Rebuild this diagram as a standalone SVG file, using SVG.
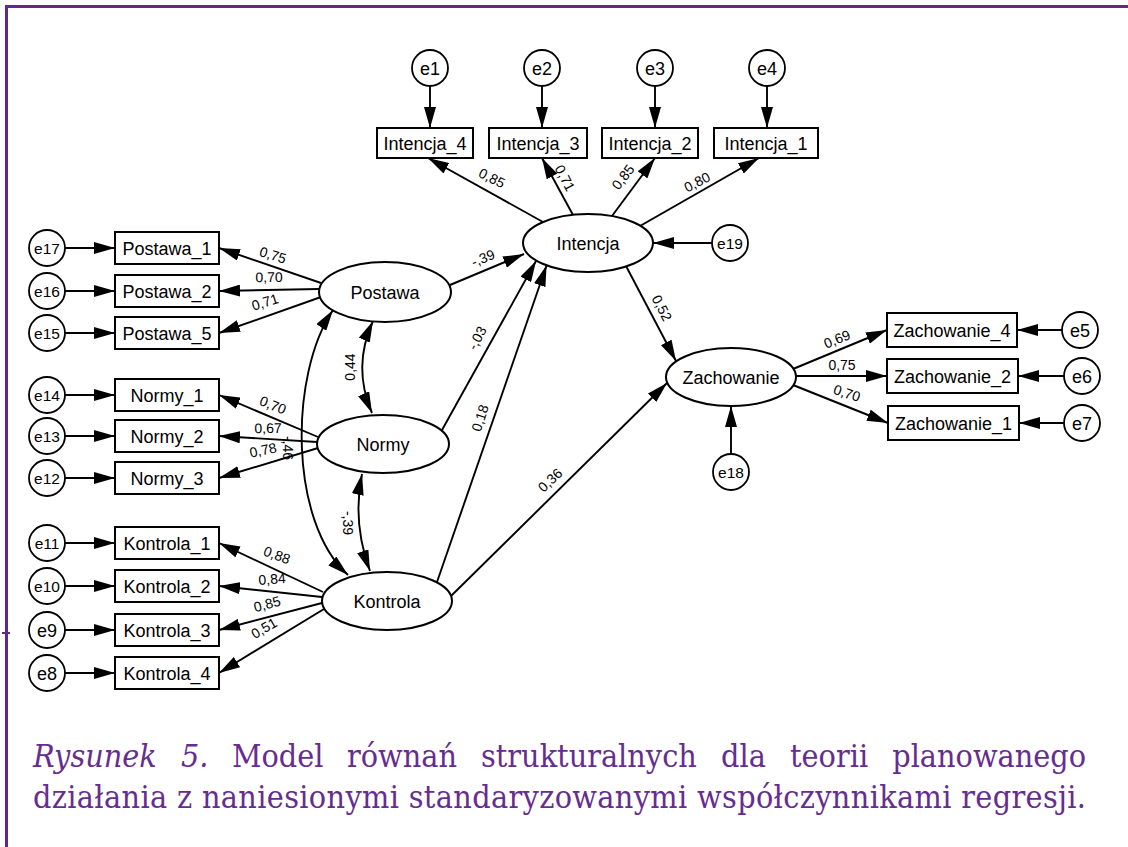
<svg xmlns="http://www.w3.org/2000/svg" width="1128" height="847" viewBox="0 0 1128 847">
<style>
.bx{fill:#fff;stroke:#000;stroke-width:2}
.el{fill:#fff;stroke:#000;stroke-width:2}
.ci{fill:#fff;stroke:#000;stroke-width:1.8}
.t{font-family:"Liberation Sans",Arial,sans-serif;font-size:18px;fill:#000;text-anchor:middle}
.e2{font-family:"Liberation Sans",Arial,sans-serif;font-size:18px;fill:#000;text-anchor:middle}
.e3{font-family:"Liberation Sans",Arial,sans-serif;font-size:15.5px;fill:#000;text-anchor:middle}
.c{font-family:"Liberation Sans",Arial,sans-serif;font-size:14px;fill:#000;text-anchor:middle}
.ln{fill:none;stroke:#000;stroke-width:1.9;marker-end:url(#ah)}
.dl{fill:none;stroke:#000;stroke-width:1.9;marker-start:url(#ah);marker-end:url(#ah)}
.cap{font-family:"DejaVu Serif","Liberation Serif",serif;font-stretch:condensed;font-size:32px;fill:#662d91}
.it{font-style:italic}
</style>
<defs>
<marker id="ah" viewBox="0 0 21 12" markerWidth="21" markerHeight="12" refX="21" refY="6" orient="auto-start-reverse" markerUnits="userSpaceOnUse">
<path d="M0,0 L21,6 L0,12 z" fill="#000"/>
</marker>
</defs>
<rect width="1128" height="847" fill="#fff"/>
<g id="frame">
<path d="M6.5,847 L6.5,6.5 L1128,6.5" fill="none" stroke="#5e2a86" stroke-width="3"/>
<line x1="2" y1="633" x2="10" y2="633" stroke="#5e2a86" stroke-width="2"/>
</g>

<g id="connectors">
<line class="ln" x1="430" y1="86" x2="430" y2="128"/>
<line class="ln" x1="542" y1="86" x2="542" y2="128"/>
<line class="ln" x1="655" y1="86" x2="655" y2="128"/>
<line class="ln" x1="767" y1="86" x2="767" y2="128"/>
<line class="ln" x1="543" y1="222" x2="428" y2="158"/>
<line class="ln" x1="573" y1="215" x2="542" y2="158"/>
<line class="ln" x1="612" y1="216" x2="655" y2="158"/>
<line class="ln" x1="640" y1="226" x2="759" y2="158"/>
<line class="ln" x1="712" y1="243" x2="653" y2="243"/>
<line class="ln" x1="65" y1="248" x2="115" y2="248"/>
<line class="ln" x1="65" y1="291" x2="115" y2="291"/>
<line class="ln" x1="65" y1="333" x2="115" y2="333"/>
<line class="ln" x1="65" y1="395" x2="115" y2="395"/>
<line class="ln" x1="65" y1="436" x2="115" y2="436"/>
<line class="ln" x1="65" y1="478" x2="115" y2="478"/>
<line class="ln" x1="65" y1="543" x2="115" y2="543"/>
<line class="ln" x1="65" y1="586" x2="115" y2="586"/>
<line class="ln" x1="65" y1="630" x2="115" y2="630"/>
<line class="ln" x1="65" y1="673" x2="115" y2="673"/>
<line class="ln" x1="321" y1="283" x2="219" y2="248"/>
<line class="ln" x1="319" y1="289" x2="219" y2="291"/>
<line class="ln" x1="321" y1="297" x2="219" y2="333"/>
<line class="ln" x1="318" y1="437" x2="219" y2="395"/>
<line class="ln" x1="317" y1="442" x2="219" y2="436"/>
<line class="ln" x1="318" y1="448" x2="219" y2="478"/>
<line class="ln" x1="323" y1="592" x2="219" y2="543"/>
<line class="ln" x1="322" y1="597" x2="219" y2="586"/>
<line class="ln" x1="322" y1="603" x2="219" y2="630"/>
<line class="ln" x1="324" y1="609" x2="219" y2="673"/>
<line class="ln" x1="450" y1="285" x2="524" y2="254"/>
<line class="ln" x1="442" y1="430" x2="536" y2="261"/>
<line class="ln" x1="437" y1="582" x2="546.6" y2="265.3"/>
<line class="ln" x1="451" y1="596" x2="667" y2="383"/>
<line class="ln" x1="626" y1="266" x2="676" y2="361"/>
<line class="ln" x1="731" y1="454" x2="731" y2="406"/>
<line class="ln" x1="793" y1="369" x2="887" y2="330"/>
<line class="ln" x1="796" y1="376" x2="887" y2="376"/>
<line class="ln" x1="793" y1="385" x2="888" y2="423"/>
<line class="ln" x1="1062" y1="330" x2="1017" y2="330"/>
<line class="ln" x1="1064" y1="376" x2="1018" y2="376"/>
<line class="ln" x1="1064" y1="423" x2="1019" y2="423"/>
<path class="dl" d="M373,321 Q352,367 372,413"/>
<path class="dl" d="M362,474 Q352,522 370,571"/>
<path class="dl" d="M333,310 C289,375 289,522 348,575"/>
</g>

<g id="coefficients">
<text class="c" transform="translate(492,178) rotate(27)" y="5">0,85</text>
<text class="c" transform="translate(565,178) rotate(62)" y="5">0,71</text>
<text class="c" transform="translate(623,177) rotate(-52)" y="5">0,85</text>
<text class="c" transform="translate(697,182) rotate(-27)" y="5">0,80</text>
<text class="c" transform="translate(273,255) rotate(17)" y="5">0,75</text>
<text class="c" transform="translate(269,277) rotate(-1)" y="5">0,70</text>
<text class="c" transform="translate(265,302) rotate(-17)" y="5">0,71</text>
<text class="c" transform="translate(273,405) rotate(22)" y="5">0,70</text>
<text class="c" transform="translate(268,428) rotate(-1)" y="5">0,67</text>
<text class="c" transform="translate(263,450) rotate(-12)" y="5">0,78</text>
<text class="c" transform="translate(277,555) rotate(20)" y="5">0,88</text>
<text class="c" transform="translate(272,579) rotate(-4)" y="5">0,84</text>
<text class="c" transform="translate(267,604) rotate(-15)" y="5">0,85</text>
<text class="c" transform="translate(264,628) rotate(-30)" y="5">0,51</text>
<text class="c" transform="translate(288,448) rotate(90)" y="5">-,46</text>
<text class="c" transform="translate(350,367) rotate(-90)" y="5">0,44</text>
<text class="c" transform="translate(348,523) rotate(90)" y="5">-,39</text>
<text class="c" transform="translate(483,258) rotate(-22)" y="5">-,39</text>
<text class="c" transform="translate(477,338) rotate(-62)" y="5">-,03</text>
<text class="c" transform="translate(480,418) rotate(-72)" y="5">0,18</text>
<text class="c" transform="translate(550,480) rotate(-43)" y="5">0,36</text>
<text class="c" transform="translate(662,308) rotate(63)" y="5">0,52</text>
<text class="c" transform="translate(837,339) rotate(-22)" y="5">0,69</text>
<text class="c" transform="translate(842,365)" y="5">0,75</text>
<text class="c" transform="translate(847,393) rotate(18)" y="5">0,70</text>
</g>

<g id="e1"><circle class="ci" cx="430" cy="68" r="18"/><text class="e2" x="430" y="74.5">e1</text></g>
<g id="e2"><circle class="ci" cx="542" cy="68" r="18"/><text class="e2" x="542" y="74.5">e2</text></g>
<g id="e3"><circle class="ci" cx="655" cy="68" r="18"/><text class="e2" x="655" y="74.5">e3</text></g>
<g id="e4"><circle class="ci" cx="767" cy="68" r="18"/><text class="e2" x="767" y="74.5">e4</text></g>

<g id="Intencja_4"><rect class="bx" x="377" y="128" width="96" height="30"/><text class="t" x="425" y="149.5">Intencja_4</text></g>
<g id="Intencja_3"><rect class="bx" x="489" y="128" width="98" height="30"/><text class="t" x="538" y="149.5">Intencja_3</text></g>
<g id="Intencja_2"><rect class="bx" x="602" y="128" width="96" height="30"/><text class="t" x="650" y="149.5">Intencja_2</text></g>
<g id="Intencja_1"><rect class="bx" x="714" y="128" width="104" height="30"/><text class="t" x="766" y="149.5">Intencja_1</text></g>

<g id="Intencja"><ellipse class="el" cx="588" cy="243" rx="65" ry="29"/><text class="t" x="588" y="249.5">Intencja</text></g>
<g id="Postawa"><ellipse class="el" cx="385" cy="292" rx="66" ry="30"/><text class="t" x="385" y="298.5">Postawa</text></g>
<g id="Normy"><ellipse class="el" cx="383" cy="444" rx="66" ry="29"/><text class="t" x="383" y="450.5">Normy</text></g>
<g id="Kontrola"><ellipse class="el" cx="387" cy="601" rx="65" ry="29"/><text class="t" x="387" y="607.5">Kontrola</text></g>
<g id="Zachowanie"><ellipse class="el" cx="731" cy="377" rx="65" ry="29"/><text class="t" x="731" y="383.5">Zachowanie</text></g>

<g id="e19"><circle class="ci" cx="730" cy="243" r="18"/><text class="e3" x="730" y="248.5">e19</text></g>
<g id="e18"><circle class="ci" cx="731" cy="472" r="18"/><text class="e3" x="731" y="477.5">e18</text></g>

<g id="Postawa_1"><rect class="bx" x="115" y="232" width="104" height="32"/><text class="t" x="167" y="254.5">Postawa_1</text></g>
<g id="Postawa_2"><rect class="bx" x="115" y="275" width="104" height="32"/><text class="t" x="167" y="297.5">Postawa_2</text></g>
<g id="Postawa_5"><rect class="bx" x="115" y="317" width="104" height="32"/><text class="t" x="167" y="339.5">Postawa_5</text></g>
<g id="Normy_1"><rect class="bx" x="115" y="379" width="104" height="32"/><text class="t" x="167" y="401.5">Normy_1</text></g>
<g id="Normy_2"><rect class="bx" x="115" y="420" width="104" height="32"/><text class="t" x="167" y="442.5">Normy_2</text></g>
<g id="Normy_3"><rect class="bx" x="115" y="462" width="104" height="32"/><text class="t" x="167" y="484.5">Normy_3</text></g>
<g id="Kontrola_1"><rect class="bx" x="115" y="527" width="104" height="32"/><text class="t" x="167" y="549.5">Kontrola_1</text></g>
<g id="Kontrola_2"><rect class="bx" x="115" y="570" width="104" height="32"/><text class="t" x="167" y="592.5">Kontrola_2</text></g>
<g id="Kontrola_3"><rect class="bx" x="115" y="614" width="104" height="32"/><text class="t" x="167" y="636.5">Kontrola_3</text></g>
<g id="Kontrola_4"><rect class="bx" x="115" y="657" width="104" height="32"/><text class="t" x="167" y="679.5">Kontrola_4</text></g>

<g id="e17"><circle class="ci" cx="47" cy="248" r="18"/><text class="e3" x="47" y="253.5">e17</text></g>
<g id="e16"><circle class="ci" cx="47" cy="291" r="18"/><text class="e3" x="47" y="296.5">e16</text></g>
<g id="e15"><circle class="ci" cx="47" cy="333" r="18"/><text class="e3" x="47" y="338.5">e15</text></g>
<g id="e14"><circle class="ci" cx="47" cy="395" r="18"/><text class="e3" x="47" y="400.5">e14</text></g>
<g id="e13"><circle class="ci" cx="47" cy="436" r="18"/><text class="e3" x="47" y="441.5">e13</text></g>
<g id="e12"><circle class="ci" cx="47" cy="478" r="18"/><text class="e3" x="47" y="483.5">e12</text></g>
<g id="e11"><circle class="ci" cx="47" cy="543" r="18"/><text class="e3" x="47" y="548.5">e11</text></g>
<g id="e10"><circle class="ci" cx="47" cy="586" r="18"/><text class="e3" x="47" y="591.5">e10</text></g>
<g id="e9"><circle class="ci" cx="47" cy="630" r="18"/><text class="e2" x="47" y="636.5">e9</text></g>
<g id="e8"><circle class="ci" cx="47" cy="673" r="18"/><text class="e2" x="47" y="679.5">e8</text></g>

<g id="Zachowanie_4"><rect class="bx" x="887" y="313" width="130" height="34"/><text class="t" x="952" y="336.5">Zachowanie_4</text></g>
<g id="Zachowanie_2"><rect class="bx" x="887" y="359" width="131" height="34"/><text class="t" x="952.5" y="382.5">Zachowanie_2</text></g>
<g id="Zachowanie_1"><rect class="bx" x="888" y="406" width="131" height="34"/><text class="t" x="953.5" y="429.5">Zachowanie_1</text></g>
<g id="e5"><circle class="ci" cx="1080" cy="330" r="18"/><text class="e2" x="1080" y="336.5">e5</text></g>
<g id="e6"><circle class="ci" cx="1082" cy="376" r="18"/><text class="e2" x="1082" y="382.5">e6</text></g>
<g id="e7"><circle class="ci" cx="1082" cy="423" r="18"/><text class="e2" x="1082" y="429.5">e7</text></g>

<g id="caption">
<text class="cap it" x="33" y="767">Rysunek</text>
<text class="cap it" x="181" y="767">5.</text>
<text class="cap" x="232" y="767">Model</text>
<text class="cap" x="347" y="767">równań</text>
<text class="cap" x="481" y="767">strukturalnych</text>
<text class="cap" x="721" y="767">dla</text>
<text class="cap" x="790" y="767">teorii</text>
<text class="cap" x="1086" y="767" text-anchor="end">planowanego</text>
<text class="cap" x="33" y="808" textLength="1053" lengthAdjust="spacing">działania z naniesionymi standaryzowanymi współczynnikami regresji.</text>
</g>
</svg>
